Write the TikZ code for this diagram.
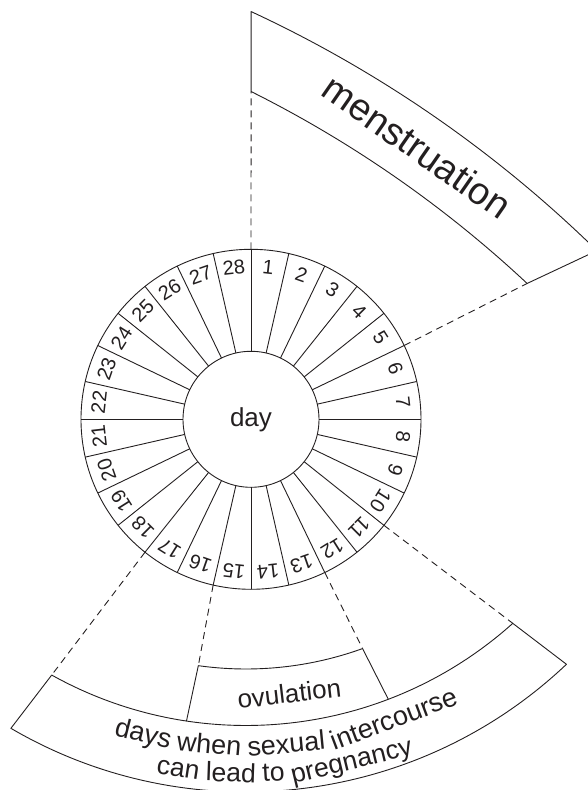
\documentclass[tikz,border=0pt]{standalone}
\usepackage{fontspec}
\setmainfont{Liberation Sans}
\setsansfont{Liberation Sans}
\usetikzlibrary{calc}
\definecolor{mcink}{RGB}{35,31,32}
\newcommand{\mensfont}{\fontsize{38}{40}\selectfont}
\newcommand{\bandfont}{\fontsize{26}{28}\selectfont}
\newcommand{\topfont}{\fontsize{27}{29}\selectfont}
\newcommand{\lowfont}{\fontsize{26.5}{28}\selectfont}
\tikzset{
  mcline/.style={draw=mcink, line width=0.9pt},
  mcdash/.style={mcline, dash pattern=on 7pt off 5pt},
  daynum/.style={font=\fontsize{20}{22}\selectfont, text=mcink, inner sep=0pt},
  bandtxt/.style={font=\bandfont, text=mcink, inner sep=1pt},
  arcword/.style={bandtxt, anchor=base, inner sep=0pt},
  every picture/.append style={line join=round}
}

\begin{document}
\begin{tikzpicture}[x=1pt,y=1pt]
  % frame, centre of the wheel at the origin
  \useasboundingbox (-251,-370.7) rectangle (337,419.3);
  \clip (-251,-370.7) rectangle (337,419.3);
  \coordinate (ctr) at (0,0);
  \coordinate (mc) at (-523,-718.7);  % centre of the menstruation band
  \coordinate (lc) at (-5,93.3);      % centre of the lower band

  % wheel of days
  \draw[mcline] (ctr) circle[radius=170];
  \draw[mcline] (ctr) circle[radius=68];
  \foreach \k in {0,...,27}
    \draw[mcline] ({90-\k*360/28}:68) -- ({90-\k*360/28}:170);
  \foreach \k in {1,...,28}
    \node[daynum, rotate={-(\k-0.5)*360/28}] (d\k) at ({90-(\k-0.5)*360/28}:153) {\k};
  \node[bandtxt] (day) at (ctr) {day};

  % points on the rim
  \coordinate (w0) at (90:170);
  \coordinate (w5) at ({90-5*360/28}:170);
  \coordinate (w10) at ({90-10*360/28}:170);
  \coordinate (w12) at ({90-12*360/28}:170);
  \coordinate (w15) at ({90-15*360/28}:170);
  \coordinate (w17) at ({90-17*360/28}:170);

  % menstruation band
  \coordinate (mA) at ($(mc)+(63.44:1170)$);
  \coordinate (mP) at ($(mc)+(65.09:1242)$);
  \coordinate (mB) at ($(mc)+(46.92:1170)$);
  \draw[mcline] (mP) arc[start angle=65.09, end angle=45.6, radius=1242]
    -- (mB) arc[start angle=46.92, end angle=63.44, radius=1170] -- cycle;
  \draw[mcdash] (w0) -- (mA);
  \draw[mcdash] (w5) -- (mB);
  \node[arcword, font=\mensfont, rotate=-34.8] (mens) at ($(mc)+(55.2:1194)$) {menstruation};

  % lower band
  \coordinate (bL1) at ($(lc)+(-119.1:399.5)$);
  \coordinate (bR1) at ($(lc)+(-48.1:399.5)$);
  \coordinate (bR2) at ($(lc)+(-46.55:466)$);
  \draw[mcline] (bL1) arc[start angle=-119.1, end angle=-48.1, radius=399.5]
    -- (bR2) arc[start angle=-46.55, end angle=-120.3, radius=466] -- cycle;
  \draw[mcdash] (w17) -- (bL1);
  \draw[mcdash] (w10) -- (bR1);

  % ovulation
  \coordinate (oLT) at ($(lc)+(-97.99:343)$);
  \coordinate (oRT) at ($(lc)+(-70.13:343)$);
  \coordinate (oLB) at ($(lc)+(-98.57:399.5)$);
  \coordinate (oRB) at ($(lc)+(-69.13:399.5)$);
  \draw[mcline] (oLB) -- (oLT) arc[start angle=-97.99, end angle=-70.13, radius=343] -- (oRB);
  \draw[mcdash] (w15) -- (oLT);
  \draw[mcdash] (w12) -- (oRT);
  \node[bandtxt, rotate=6.7] (ovu) at ($(lc)+(-83.3:370)$) {ovulation};

  % words set along the lower band
  \node[arcword, font=\topfont, rotate=-14.13] (days) at ($(lc)+(-104.13:429)$) {days};
  \node[arcword, font=\topfont, rotate=-5.02] (when) at ($(lc)+(-95.02:429)$) {when};
  \node[arcword, font=\topfont, rotate=5.50] (sexual) at ($(lc)+(-84.50:429)$) {sexual};
  \node[arcword, font=\topfont, rotate=20.63] (inter) at ($(lc)+(-69.37:429)$) {intercourse};
  \node[arcword, font=\lowfont, rotate=-8.70] (can) at ($(lc)+(-98.70:456)$) {can};
  \node[arcword, font=\lowfont, rotate=-1.94] (lead) at ($(lc)+(-91.94:456)$) {lead};
  \node[arcword, font=\lowfont, rotate=3.52] (to) at ($(lc)+(-86.48:456)$) {to};
  \node[arcword, font=\lowfont, rotate=13.61] (preg) at ($(lc)+(-76.39:456)$) {pregnancy};
\end{tikzpicture}
\end{document}
